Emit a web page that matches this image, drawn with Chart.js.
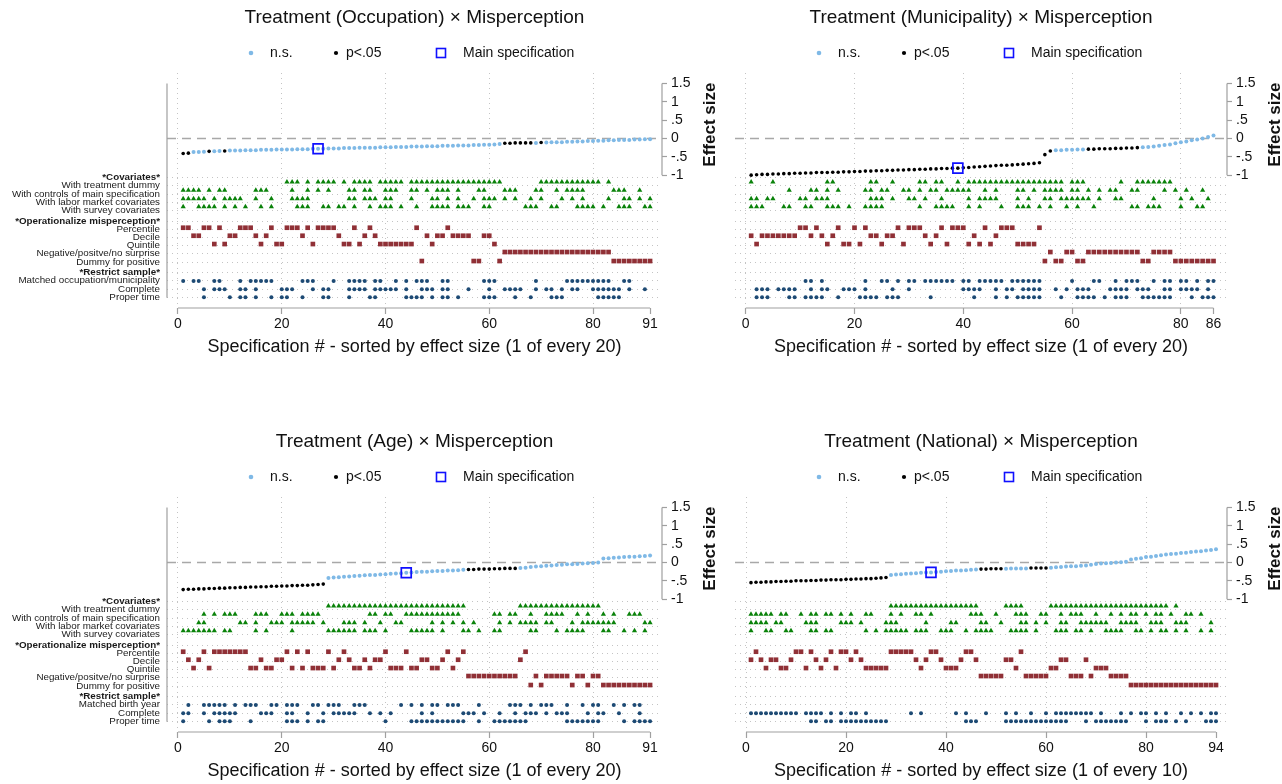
<!DOCTYPE html>
<html>
<head>
<meta charset="utf-8">
<script src="https://cdn.jsdelivr.net/npm/chart.js@4.4.1/dist/chart.umd.min.js"></script>
<style>
  html, body { margin: 0; padding: 0; background: #fff; }
  body { width: 1282px; height: 784px; position: relative; overflow: hidden; }
  canvas { position: absolute; }
</style>
</head>
<body>
<canvas id="occChart"></canvas>
<canvas id="munChart"></canvas>
<canvas id="ageChart"></canvas>
<canvas id="natChart"></canvas>
<script>
const FONT = '"Liberation Sans", Arial, Helvetica, sans-serif';
const LTBLUE = "#7fb9e6";
const GREEN = "#0a820a";
const MAROON = "#903036";
const NAVY = "#1d4a74";
const GRID = "#c4c4c4";
const AXIS = "#a0a0a0";

// ---- row labels (left panels only) ----
const rowLabelsOcc = ["*Covariates*", "With treatment dummy", "With controls of main specification",
  "With labor market covariates", "With survey covariates", "*Operationalize misperception*",
  "Percentile", "Decile", "Quintile", "Negative/positve/no surprise", "Dummy for positive",
  "*Restrict sample*", "Matched occupation/municipality", "Complete", "Proper time"];
const rowLabelsAge = ["*Covariates*", "With treatment dummy", "With controls of main specification",
  "With labor market covariates", "With survey covariates", "*Operationalize misperception*",
  "Percentile", "Decile", "Quintile", "Negative/positve/no surprise", "Dummy for positive",
  "*Restrict sample*", "Matched birth year", "Complete", "Proper time"];
const headerRows = [0, 5, 11];

const effectTicks = [-1, -0.5, 0, 0.5, 1, 1.5];
const effectTickLabels = ["-1", "-.5", "0", ".5", "1", "1.5"];

// ---- Occupation (N = 91) ----
const occTicks = [0, 20, 40, 60, 80, 91];
const occEffect = [-0.41,-0.40,-0.37,-0.37,-0.36,-0.35,-0.35,-0.34,-0.34,-0.33,
  -0.33,-0.33,-0.32,-0.32,-0.32,-0.31,-0.31,-0.31,-0.30,-0.30,
  -0.30,-0.30,-0.29,-0.29,-0.29,-0.28,-0.28,-0.28,-0.27,-0.27,
  -0.27,-0.26,-0.26,-0.26,-0.25,-0.25,-0.25,-0.25,-0.24,-0.24,
  -0.24,-0.23,-0.23,-0.23,-0.22,-0.22,-0.22,-0.21,-0.21,-0.21,
  -0.20,-0.20,-0.20,-0.19,-0.19,-0.19,-0.18,-0.18,-0.17,-0.17,
  -0.16,-0.15,-0.13,-0.13,-0.12,-0.12,-0.12,-0.12,-0.12,-0.11,
  -0.11,-0.10,-0.10,-0.10,-0.09,-0.09,-0.08,-0.08,-0.07,-0.07,
  -0.06,-0.06,-0.05,-0.05,-0.04,-0.04,-0.04,-0.03,-0.03,-0.02,
  -0.02];
const occSignif = "1,2,6,9,63-68,70";
const occMain = 27;
const occCov = [
  "21-23,25,27-30,32,34-37,39-43,45-62,70-81,83",
  "1-4,6,8,9,15-17,22,25,27,29,33,34,36,37,40-42,45,46,48,50-52,54,58,59,63-65,69,70,73,75-78,84-86,89",
  "1-5,7,9-12,15,18,22-25,33,34,36-38,40,41,45,49,50,52,54,57,59-61,63,65,68,70,74,76,78,83,86,87,89,91",
  "1,4-7,9,11,13,16,18,23-25,28,29,31,32,34,37,39-41,43,46,49-52,54-56,59,60,67-69,72,73,77-80,82,85-87,90,91"];
const occOp = [
  "1,2,5,6,8,12-14,18,21-23,25,27-30,34,37,46,52",
  "3,4,10,11,15,17,24,31,36,38,48,50,51,53-56,59,60",
  "7,9,16,19,20,26,32,33,35,39-45,49,61",
  "63-83",
  "47,57,58,62,84-91"];
const occSample = [
  "1,3,4,7,8,12,14-18,24-26,30,33-36,38,39,42,44,46-48,51,52,59-61,69,75-83,86,87",
  "5,7-9,12,13,15,20-22,26,28,29,33-36,38-42,44,47-49,51,52,56,60,63-66,69,71,72,74,76,77,80-85,87,90",
  "5,10,12,13,15,18,20,21,24,28,29,33,37,38,44-47,49,51,52,54,59-61,65,68,72-74,81-85"];

// ---- Municipality (N = 86) ----
const munTicks = [0, 20, 40, 60, 80, 86];
const munEffect = [-1.00,-0.99,-0.98,-0.98,-0.97,-0.97,-0.96,-0.96,-0.95,-0.95,
  -0.94,-0.94,-0.93,-0.93,-0.93,-0.92,-0.92,-0.91,-0.91,-0.90,
  -0.90,-0.89,-0.89,-0.88,-0.88,-0.87,-0.87,-0.86,-0.86,-0.85,
  -0.85,-0.84,-0.84,-0.83,-0.83,-0.82,-0.82,-0.81,-0.81,-0.80,
  -0.79,-0.78,-0.77,-0.76,-0.75,-0.74,-0.73,-0.73,-0.72,-0.71,
  -0.70,-0.69,-0.68,-0.66,-0.44,-0.34,-0.32,-0.32,-0.31,-0.31,
  -0.30,-0.30,-0.29,-0.29,-0.28,-0.28,-0.28,-0.27,-0.27,-0.26,
  -0.26,-0.25,-0.24,-0.23,-0.22,-0.20,-0.18,-0.16,-0.13,-0.10,
  -0.08,-0.05,-0.03,0.00,0.04,0.08];
const munSignif = "1-56,63-72";
const munMain = 39;
const munCov = [
  "1,5,15,16,23,24,27,32,33,35,36,39,41-58,60-62,69,72-78",
  "8,12,13,15,17,22,23,25,26,29,30,32,34,35,37-41,44,46,50,51,53,55-58,60,61,63,65,67,68,71,72,77,79,81,84",
  "1,2,4,5,10,11,13-15,23-25,27,30,31,33,36,41,43-46,50,52,55,56,58-63,65,68,69,75,80,82,85",
  "1-3,7,8,11,12,15-17,19,22-25,32,35-38,41,43,47,50-52,54,56,59,61,64,71,72,74-76,80,83,84"];
const munOp = [
  "10,11,13,17,20,22,28,30-32,36,38-40,44,47-49,54",
  "1,3-9,12,14,16,23,24,26,27,33,35,42,46",
  "2,15,18,19,21,25,29,34,37,41,43,45,50-53",
  "56,59,60,63-72,75-78",
  "55,57,58,61,62,73,74,79-86"];
const munSample = [
  "11,12,14,22,25,26,28,30,31,33-38,40,41,43-47,49-54,60,64,65,68,70-72,75,77,78,80,81,83,85,86",
  "2-4,6-9,12,14,15,18-20,22,27,30,40-43,46,48,49,51-54,57,59,61-63,67-70,72-74,77,78,80-83,85",
  "2-4,8,9,11-14,17,21-24,26-28,34,42,46,48,50-54,58,61-64,66,68-70,73-78,82,84-86"];

// ---- Age (N = 91) ----
const ageTicks = [0, 20, 40, 60, 80, 91];
const ageEffect = [-0.74,-0.73,-0.73,-0.72,-0.72,-0.71,-0.71,-0.70,-0.70,-0.69,
  -0.69,-0.68,-0.68,-0.67,-0.67,-0.66,-0.66,-0.65,-0.65,-0.64,
  -0.64,-0.63,-0.63,-0.62,-0.62,-0.61,-0.60,-0.59,-0.42,-0.41,
  -0.40,-0.39,-0.38,-0.37,-0.36,-0.35,-0.34,-0.34,-0.33,-0.32,
  -0.31,-0.30,-0.29,-0.28,-0.27,-0.26,-0.25,-0.25,-0.24,-0.23,
  -0.23,-0.22,-0.22,-0.21,-0.20,-0.19,-0.19,-0.18,-0.18,-0.18,
  -0.17,-0.17,-0.16,-0.16,-0.16,-0.15,-0.14,-0.12,-0.11,-0.10,
  -0.09,-0.08,-0.07,-0.06,-0.05,-0.05,-0.04,-0.03,-0.02,-0.01,
  0.00,0.11,0.12,0.13,0.14,0.15,0.16,0.16,0.17,0.18,
  0.19];
const ageSignif = "1-28,56-65";
const ageMain = 44;
const ageCov = [
  "29-55,66-81",
  "5,7,9-11,15-17,20-22,24-27,37,38,40,41,44-54,61,62,64,65,68,71-74,77,79,82,84,87-89",
  "4,5,12,13,15,18-20,22-26,28,32-34,36,39,42,43,49,51,53,55,57,62,64,66-69,71,72,76,78-84,90,91",
  "1-7,9,10,15,17,22,29-34,36-38,40,45-49,51,55,56,58,61,62,68,69,73,75-78,82,83,86,88,90"];
const ageOp = [
  "1,5,7-13,21,23,25,29,32,40,44,52,55,67",
  "2,4,16,19,20,31,33,36,38,39,47,48,51,54,66",
  "3,6,14,15,17,18,22,24,26-28,30,34,35,37,41-43,45,46,49,50,53",
  "56-65,69,71-75,77,78,80,81",
  "68,70,76,79,82-91"];
const ageSample = [
  "2,5-9,11,13-15,18,19,21-23,26,27,29-31,34-36,43,45,47,49,50,52-54,58,64-66,68,70-72,75,78,80,81,84,86,88,89",
  "1,2,5,7-11,16-18,21,22,25,28,30-34,37,39,41,47,49,55-57,59,62,65,67-69,71,73-75,79,81,82,85,89",
  "1,6,8-10,14,21-23,25,27,28,40,45-55,58,61-67,75-81,86,88-91"];

// ---- National (N = 94) ----
const natTicks = [0, 20, 40, 60, 80, 94];
const natEffect = [-0.55,-0.54,-0.54,-0.53,-0.53,-0.52,-0.52,-0.51,-0.51,-0.50,
  -0.50,-0.50,-0.49,-0.49,-0.48,-0.48,-0.47,-0.47,-0.47,-0.46,
  -0.46,-0.45,-0.45,-0.44,-0.44,-0.43,-0.42,-0.41,-0.34,-0.33,
  -0.32,-0.31,-0.30,-0.29,-0.28,-0.27,-0.27,-0.26,-0.25,-0.24,
  -0.23,-0.22,-0.22,-0.21,-0.20,-0.19,-0.18,-0.18,-0.17,-0.17,
  -0.17,-0.17,-0.16,-0.16,-0.16,-0.16,-0.15,-0.15,-0.15,-0.15,
  -0.14,-0.13,-0.12,-0.11,-0.10,-0.10,-0.09,-0.08,-0.06,-0.04,
  -0.03,-0.02,-0.01,0.00,0.01,0.02,0.08,0.10,0.12,0.15,
  0.16,0.18,0.20,0.22,0.23,0.24,0.26,0.27,0.29,0.30,
  0.31,0.33,0.34,0.36];
const natSignif = "1-28,47-51,57-60";
const natMain = 37;
const natCov = [
  "29-46,52-55,61-84,86",
  "1-5,7,8,11,13,14,16,17,19,21,24,25,29,31,34,35,37,45-47,50,54-56,59,60,63,65-67,70,73,75,77,78,80,82,83,85,88,89,91",
  "1-4,6,7,12-14,19-21,23,28-30,36,41,42,47,48,51,55,56,58,60,63,64,67-72,75-78,81-83,86-88,93",
  "1,4,5,8,9,13,14,16,17,24,26,28-32,34-36,39-41,44,46-49,53-56,58,62-64,66,67,69,72-75,78,79,81,83,84,86,88,91,93"];
const natOp = [
  "2,10,11,13,17,19,20,22,29-33,37,38,44,45,55",
  "1,3,5,6,9,14,16,21,23,34,36,39,43,46,52,53,63,64,68",
  "4,7,8,12,15,18,24-28,35,40-42,54,61,62,70-72",
  "47-51,56-60,65-67,69,73-76",
  "77-94"];
const natSample = [
  "",
  "1-10,12-15,17,19,21,22,24,33,35,42,44,48,52,54,57,60,62-69,71,75,77,79,80,82,84,87,89,91,93,94",
  "13,14,16,17,19-28,44-46,52-64,68,70-76,80,82-84,86,88,92-94"];

// ---- vertical positions of the rows on the effect-size scale ----
const labelRowY = [-1.071, -1.290, -1.525, -1.743, -1.962, -2.273, -2.481, -2.691, -2.918,
  -3.137, -3.383, -3.648, -3.885, -4.120, -4.350];
const covRowY = [-1.19, -1.415, -1.645, -1.863];
const opRowY = [-2.437, -2.656, -2.883, -3.101, -3.347];
const sampleRowY = [-3.893, -4.120, -4.339];
const Y_MIN = -4.63, Y_MAX = 1.79;

// "1-3,7" -> [1, 2, 3, 7]
function specList(str) {
  const out = [];
  str.split(",").filter(Boolean).forEach(part => {
    const [a, b] = part.split("-").map(Number);
    for (let s = a; s <= (b || a); s++) out.push(s);
  });
  return out;
}

const decor = {
  id: "decor",
  beforeDatasetsDraw(chart, args, o) {
    const ctx = chart.ctx, a = chart.chartArea;
    const xs = chart.scales.x, ys = chart.scales.yr;
    ctx.save();
    // zero line
    ctx.strokeStyle = "#a8a8a8";
    ctx.lineWidth = 1.3;
    ctx.setLineDash([9, 6]);
    ctx.beginPath();
    ctx.moveTo(a.left, ys.getPixelForValue(0));
    ctx.lineTo(a.right, ys.getPixelForValue(0));
    ctx.stroke();
    ctx.setLineDash([]);
    // axis lines
    ctx.strokeStyle = AXIS;
    ctx.lineWidth = 1.2;
    ctx.beginPath();
    ctx.moveTo(xs.getPixelForValue(0), a.bottom);
    ctx.lineTo(xs.getPixelForValue(o.n), a.bottom);
    ctx.moveTo(a.right, ys.getPixelForValue(1.5));
    ctx.lineTo(a.right, ys.getPixelForValue(-1));
    if (o.leftAxis) {
      ctx.moveTo(a.left, ys.getPixelForValue(1.5));
      ctx.lineTo(a.left, ys.getPixelForValue(labelRowY[labelRowY.length - 1]));
    }
    ctx.stroke();
    ctx.restore();
  },
  afterDraw(chart, args, o) {
    const ctx = chart.ctx, a = chart.chartArea, ys = chart.scales.yr;
    const cx = (a.left + a.right) / 2;
    ctx.save();
    ctx.fillStyle = "#111";
    ctx.textBaseline = "middle";
    ctx.textAlign = "center";
    ctx.font = "19px " + FONT;
    ctx.fillText(o.title, cx, 18);
    ctx.font = "18px " + FONT;
    ctx.fillText(o.xTitle, cx, 347);

    // legend
    const ly = 53;
    ctx.font = "14px " + FONT;
    ctx.textAlign = "left";
    ctx.fillStyle = LTBLUE;
    ctx.beginPath(); ctx.arc(a.left + 84, ly, 2.3, 0, Math.PI * 2); ctx.fill();
    ctx.fillStyle = "#000";
    ctx.beginPath(); ctx.arc(a.left + 169, ly, 2.1, 0, Math.PI * 2); ctx.fill();
    ctx.strokeStyle = "#1010ff";
    ctx.lineWidth = 1.6;
    ctx.strokeRect(a.left + 274 - 4.5, ly - 4.5, 9, 9);
    ctx.fillStyle = "#111";
    ctx.fillText("n.s.", a.left + 103, ly);
    ctx.fillText("p<.05", a.left + 179, ly);
    ctx.fillText("Main specification", a.left + 296, ly);

    // right axis title
    ctx.translate(a.right + 48, ys.getPixelForValue(0.38));
    ctx.rotate(-Math.PI / 2);
    ctx.textAlign = "center";
    ctx.font = "bold 17px " + FONT;
    ctx.fillText("Effect size", 0, 0);
    ctx.restore();
  }
};

function makeChart(p) {
  const canvas = document.getElementById(p.id);
  canvas.width = p.w;
  canvas.height = p.h;
  canvas.style.left = p.left + "px";
  canvas.style.top = p.top + "px";

  const pts = p.effect.map((v, i) => ({ x: i + 1, y: v }));
  const sig = new Set(specList(p.signif));
  const rowPts = (rows, ys) => rows.flatMap((r, k) => specList(r).map(s => ({ x: s, y: ys[k] })));

  const marker = (label, data, color, style, radius, order) => ({
    label, data, order, yAxisID: "yr",
    pointStyle: style, pointRadius: radius, pointHoverRadius: radius,
    pointBackgroundColor: color, pointBorderWidth: 0,
    backgroundColor: color, borderColor: color
  });

  new Chart(canvas, {
    type: "scatter",
    data: {
      datasets: [
        {
          label: "Main specification", data: [pts[p.main - 1]], order: 0, yAxisID: "yr",
          pointStyle: "rect", pointRadius: 7, pointHoverRadius: 7, pointBorderWidth: 1.7,
          pointBorderColor: "#1010ff", pointBackgroundColor: "rgba(0,0,0,0)",
          borderColor: "#1010ff", backgroundColor: "rgba(0,0,0,0)"
        },
        marker("p<.05", pts.filter(d => sig.has(d.x)), "#000", "circle", 1.8, 1),
        marker("n.s.", pts.filter(d => !sig.has(d.x)), LTBLUE, "circle", 2.0, 2),
        marker("Covariates", rowPts(p.cov, covRowY), GREEN, "triangle", 3.0, 3),
        marker("Operationalize", rowPts(p.op, opRowY), MAROON, "rect", 3.3, 3),
        marker("Sample", rowPts(p.sample, sampleRowY), NAVY, "circle", 2.0, 3)
      ]
    },
    options: {
      responsive: false,
      animation: false,
      events: [],
      layout: { padding: { top: 73, left: 0, right: p.w - p.areaRight - 40, bottom: p.h - 308 - 30 } },
      scales: {
        x: {
          type: "linear", position: "bottom", min: p.xMin, max: p.xMax,
          afterBuildTicks: s => { s.ticks = p.xTicks.map(v => ({ value: v })); },
          afterFit: s => { s.height = 30; },
          ticks: {
            autoSkip: false, maxRotation: 0, padding: 2, color: "#111",
            font: { family: FONT, size: 14 }, callback: v => String(v)
          },
          grid: {
            color: c => (c.tick && c.tick.value <= 80 ? GRID : "rgba(0,0,0,0)"),
            lineWidth: 1, tickColor: AXIS, tickLength: 6, tickWidth: 1.2
          },
          border: { display: false, dash: [1, 4] }
        },
        yl: {
          type: "linear", position: "left", min: Y_MIN, max: Y_MAX,
          afterBuildTicks: s => { s.ticks = labelRowY.map(v => ({ value: v })); },
          afterFit: s => { s.width = p.areaLeft; },
          ticks: {
            display: !!p.labels, autoSkip: false, padding: 7, color: "#1a1a1a",
            font: c => ({ family: FONT, size: 9.8, weight: headerRows.includes(c.index) ? "bold" : "normal" }),
            callback: (v, i) => (p.labels ? p.labels[i] : "")
          },
          grid: { color: GRID, lineWidth: 1, drawTicks: false },
          border: { display: false, dash: [1, 4] }
        },
        yr: {
          type: "linear", position: "right", min: Y_MIN, max: Y_MAX,
          afterBuildTicks: s => { s.ticks = effectTicks.map(v => ({ value: v })); },
          afterFit: s => { s.width = 40; },
          ticks: {
            autoSkip: false, padding: 4, color: "#111",
            font: { family: FONT, size: 14 },
            callback: (v, i) => effectTickLabels[i]
          },
          grid: { drawOnChartArea: false, color: AXIS, tickColor: AXIS, tickLength: 5, tickWidth: 1.2 },
          border: { display: false }
        }
      },
      plugins: {
        legend: { display: false },
        tooltip: { enabled: false },
        decor: { title: p.title, xTitle: p.xTitle, n: p.n, leftAxis: !!p.labels }
      }
    },
    plugins: [decor]
  });
}

const panels = [
  { id: "occChart", title: "Treatment (Occupation) × Misperception",
    xTitle: "Specification # - sorted by effect size (1 of every 20)",
    n: 91, effect: occEffect, signif: occSignif, main: occMain, xTicks: occTicks,
    cov: occCov, op: occOp, sample: occSample, labels: rowLabelsOcc,
    left: 0, top: 0, w: 730, h: 360, areaLeft: 167, areaRight: 662, xMin: -2.12, xMax: 93.3 },
  { id: "munChart", title: "Treatment (Municipality) × Misperception",
    xTitle: "Specification # - sorted by effect size (1 of every 20)",
    n: 86, effect: munEffect, signif: munSignif, main: munMain, xTicks: munTicks,
    cov: munCov, op: munOp, sample: munSample, labels: null,
    left: 700, top: 0, w: 582, h: 360, areaLeft: 35, areaRight: 527, xMin: -1.97, xMax: 88.48 },
  { id: "ageChart", title: "Treatment (Age) × Misperception",
    xTitle: "Specification # - sorted by effect size (1 of every 20)",
    n: 91, effect: ageEffect, signif: ageSignif, main: ageMain, xTicks: ageTicks,
    cov: ageCov, op: ageOp, sample: ageSample, labels: rowLabelsAge,
    left: 0, top: 424, w: 730, h: 360, areaLeft: 167, areaRight: 662, xMin: -2.12, xMax: 93.3 },
  { id: "natChart", title: "Treatment (National) × Misperception",
    xTitle: "Specification # - sorted by effect size (1 of every 10)",
    n: 94, effect: natEffect, signif: natSignif, main: natMain, xTicks: natTicks,
    cov: natCov, op: natOp, sample: natSample, labels: null,
    left: 700, top: 424, w: 582, h: 360, areaLeft: 35, areaRight: 527, xMin: -2.2, xMax: 96.2 }
];

panels.forEach(makeChart);
</script>
</body>
</html>
